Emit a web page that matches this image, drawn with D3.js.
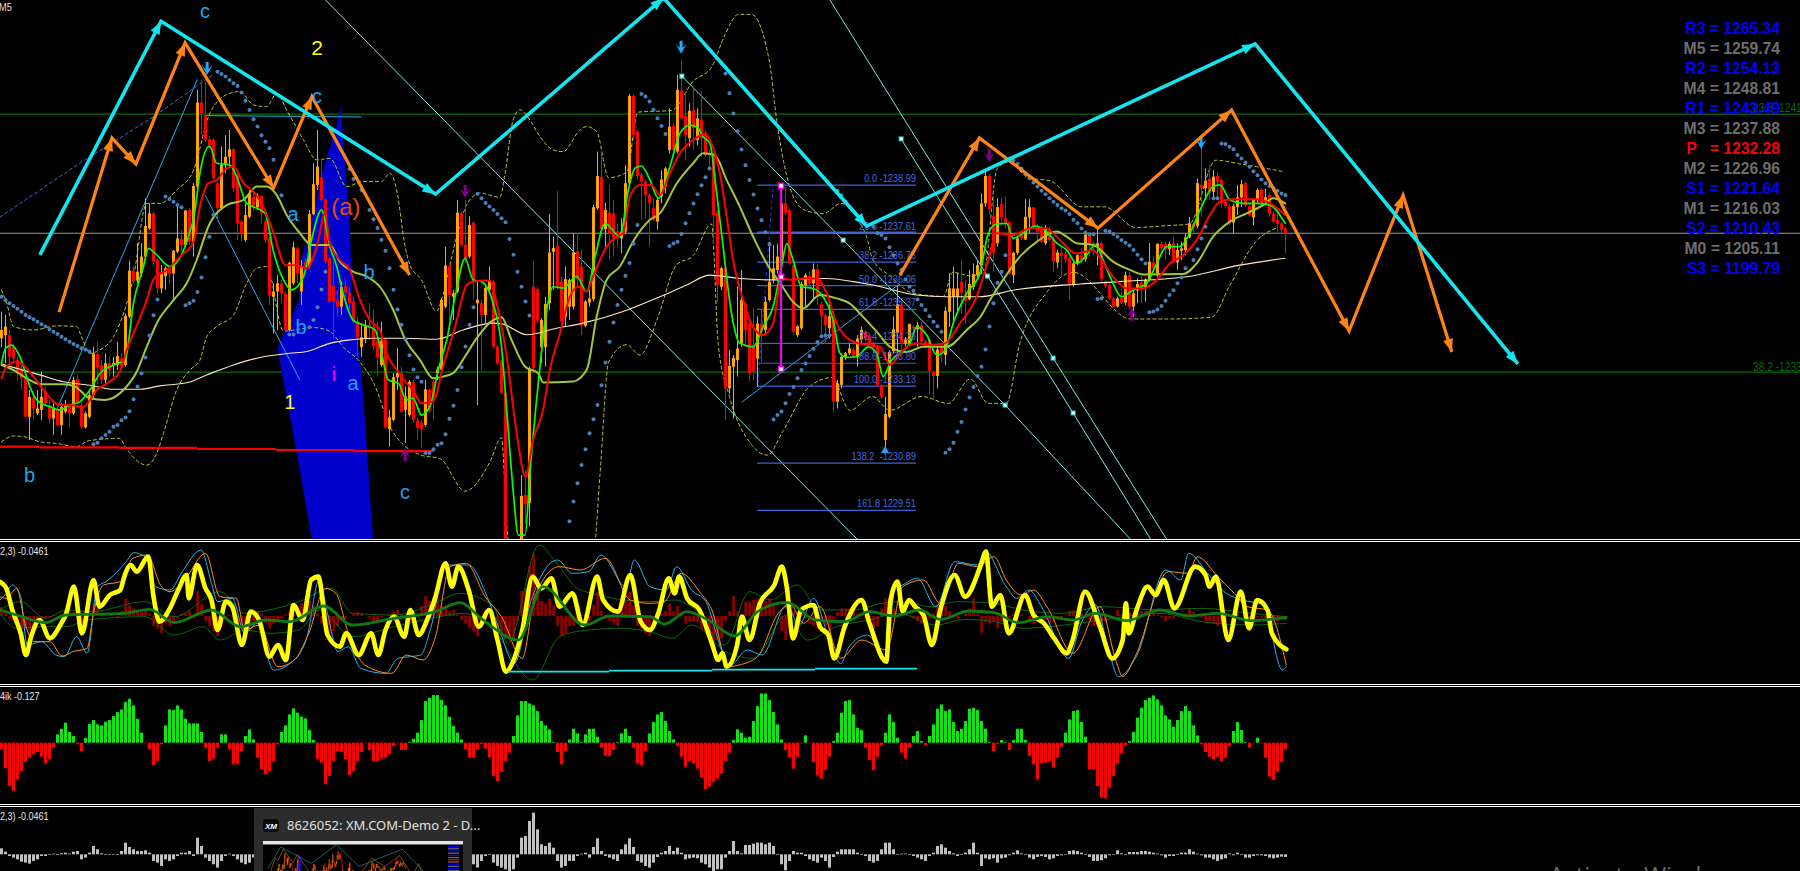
<!DOCTYPE html>
<html><head><meta charset="utf-8">
<script src="https://cdnjs.cloudflare.com/ajax/libs/d3/7.8.5/d3.min.js"></script>
<style>html,body{margin:0;padding:0;background:#000;overflow:hidden}svg{display:block}text{white-space:pre}</style>
</head><body><svg id="c" width="1800" height="871"></svg>
<script>
// all prices below are stored relative to 1200
const candleHigh=[35.30,35.21,34.77,34.38,33.99,33.80,33.41,33.02,32.87,33.02,33.55,33.12,32.73,32.63,32.58,32.63,32.73,32.63,33.41,33.46,32.68,32.39,33.02,34.28,34.43,33.89,34.09,33.99,33.99,34.43,34.09,35.25,36.79,36.62,37.30,37.30,38.61,38.46,38.22,36.86,36.66,36.62,36.66,37.10,38.36,37.68,38.27,38.32,39.05,41.77,42.06,42.01,40.41,40.36,39.09,40.11,40.45,40.60,40.07,39.34,37.98,38.46,38.85,38.75,38.75,38.70,37.98,37.49,36.13,36.37,36.23,35.89,36.76,37.34,37.20,36.81,36.86,38.27,39.63,40.60,39.77,38.61,36.91,36.76,35.94,36.18,36.23,36.03,35.74,35.16,34.97,35.06,35.55,35.36,35.01,35.01,34.53,32.44,33.51,34.24,33.70,33.12,33.31,33.31,32.20,32.15,33.31,33.07,33.31,33.70,35.69,37.20,36.72,35.94,38.56,38.22,38.56,38.08,37.93,36.18,35.65,36.03,36.62,36.23,34.33,33.90,33.02,28.5,28.5,28.5,30.54,30.69,33.70,36.76,36.03,35.11,35.74,38.15,37.49,38.81,36.33,36.62,36.28,37.59,37.59,37.10,35.65,35.94,38.42,39.97,39.92,38.47,39.00,38.56,37.88,38.03,39.58,41.65,41.65,40.60,39.34,39.15,38.76,38.61,38.61,39.43,39.53,41.23,40.79,42.20,42.64,41.67,41.38,41.81,41.23,41.72,40.60,40.02,39.92,38.27,36.61,36.66,34.18,34.04,36.03,36.52,35.59,35.01,35.40,35.16,35.35,35.74,37.34,37.24,37.29,38.99,38.95,38.31,36.71,34.91,36.18,36.42,36.47,36.71,36.71,35.59,35.25,35.64,35.25,33.31,34.09,34.13,34.38,34.28,34.62,34.86,34.77,34.67,34.43,34.33,33.21,32.82,34.18,35.16,36.08,35.54,34.57,34.96,34.91,35.01,35.01,34.48,34.52,33.60,34.28,34.33,35.45,36.42,36.61,36.42,36.81,36.23,36.52,36.71,36.81,38.75,39.43,39.33,38.66,38.61,38.61,38.66,37.93,37.05,37.49,37.68,38.58,38.58,38.36,37.86,37.78,37.83,37.78,37.49,37.10,37.20,37.05,36.91,36.76,37.00,37.15,37.63,37.59,37.34,37.70,37.34,36.23,36.18,35.74,35.74,35.98,36.47,36.47,35.93,36.28,36.33,36.28,37.30,36.91,37.30,37.34,37.34,37.34,37.49,37.30,37.34,37.59,38.07,37.93,39.19,40.26,39.48,39.58,39.43,39.38,39.19,38.56,38.46,38.46,39.00,39.14,39.09,38.46,38.61,38.90,38.90,38.90,38.75,38.22,38.17,37.93,37.78];
const candleTop=[34.77,34.87,34.62,34.28,33.89,33.65,33.36,32.82,32.78,32.48,32.82,32.97,32.58,32.48,32.44,32.53,32.58,32.58,33.31,33.33,32.58,32.34,32.87,34.09,34.07,33.75,33.80,33.80,33.80,34.01,33.94,35.18,36.50,36.50,36.47,36.91,37.80,38.17,38.17,36.81,36.42,36.57,36.57,37.08,37.44,37.42,38.25,38.27,38.97,41.40,41.40,41.04,40.33,40.31,39.05,39.58,39.82,40.04,40.04,39.29,37.93,38.12,38.75,38.66,38.68,38.68,37.93,37.44,35.89,36.13,36.13,35.82,36.73,37.18,37.15,36.62,36.76,38.15,39.02,39.53,39.22,38.58,36.86,36.05,35.63,36.02,36.05,35.86,35.60,35.01,34.56,34.92,34.92,34.87,34.46,34.46,34.50,32.22,33.39,33.51,33.51,32.83,33.26,33.24,32.13,32.07,33.04,33.02,33.26,33.61,35.65,36.65,36.64,35.84,38.19,38.17,37.25,37.83,37.90,35.65,35.55,35.99,36.23,36.18,34.29,33.85,32.94,28.4,28.4,28.4,29.93,29.96,33.65,36.03,35.96,35.06,35.53,37.03,37.16,37.22,36.18,36.25,36.23,37.03,37.06,36.62,35.60,35.69,38.35,39.26,39.22,38.27,38.19,38.17,37.64,37.64,39.05,41.59,41.59,40.55,39.29,39.10,38.71,38.32,38.56,39.16,39.48,40.70,40.72,41.77,41.75,41.01,41.16,41.18,40.94,40.89,40.52,39.92,39.87,38.22,36.57,36.59,33.72,33.96,34.23,35.64,35.54,34.94,34.33,34.96,34.96,35.59,36.18,36.57,36.91,38.46,38.46,38.27,36.66,34.88,36.11,36.37,36.34,36.54,36.54,35.52,35.20,35.17,35.16,33.21,33.99,34.09,34.23,34.20,34.52,34.77,34.72,34.62,34.36,34.30,33.17,32.32,34.13,34.79,35.52,35.50,34.49,34.94,34.86,34.91,34.91,34.43,34.49,33.55,34.20,34.28,35.33,35.98,35.98,35.98,36.18,35.82,36.11,36.40,36.66,38.46,39.26,39.26,38.09,38.35,38.44,38.03,37.92,37.02,37.44,37.63,38.07,38.35,38.35,37.80,37.70,37.73,37.70,37.41,37.03,37.02,36.98,36.86,36.71,36.95,36.95,37.56,37.54,37.30,37.30,37.30,36.18,36.08,35.69,35.69,35.71,36.37,36.37,35.84,36.11,36.15,36.23,36.76,36.74,37.28,37.28,37.28,37.28,37.30,37.10,37.15,37.47,37.88,37.86,39.05,39.00,39.12,39.18,39.24,39.26,39.14,38.51,38.38,38.38,38.64,39.02,39.05,38.38,38.58,38.85,38.85,38.64,38.71,38.15,37.98,37.88,37.73];
const candleBottom=[34.53,34.62,33.99,33.94,33.50,33.36,32.24,32.24,32.48,32.34,32.44,32.63,32.19,32.19,32.00,32.00,32.39,32.34,32.34,32.63,31.95,31.93,32.24,32.87,33.68,33.31,33.31,33.60,33.75,33.75,33.70,33.75,35.16,36.21,36.21,36.42,36.91,37.73,36.76,35.98,35.98,36.34,36.40,36.42,37.05,37.25,37.25,37.34,37.34,38.95,41.09,40.31,40.16,39.19,38.32,38.32,39.58,39.82,38.90,37.88,37.59,37.39,38.07,38.35,38.35,38.17,37.39,35.77,35.74,35.89,35.84,34.77,34.77,36.13,36.42,35.89,36.62,36.62,38.15,39.00,38.56,36.76,35.59,35.60,35.45,35.45,35.86,35.55,35.01,34.56,34.27,34.53,34.82,34.29,33.97,33.75,31.93,31.88,32.15,33.39,32.39,32.44,32.29,32.15,31.91,31.88,32.00,32.42,32.73,33.51,33.61,35.45,35.79,35.74,35.89,37.25,36.83,36.91,36.18,35.55,35.21,35.21,35.94,34.29,33.80,32.94,28.68,28.0,28.0,28.0,28.40,29.69,29.72,33.65,35.04,34.27,34.27,35.55,37.05,36.03,35.01,35.16,35.45,35.45,36.25,34.89,34.89,35.57,35.67,38.32,37.71,37.71,37.59,37.44,37.44,37.44,37.64,39.05,40.46,39.26,39.10,38.71,38.47,37.98,37.93,38.66,38.95,40.02,40.02,39.97,40.94,40.45,40.36,40.65,40.31,40.36,39.87,39.87,38.12,36.08,36.03,33.07,33.07,33.70,33.89,34.38,34.77,33.50,33.55,33.94,34.72,34.77,35.64,36.23,36.52,36.71,38.19,36.71,34.72,34.62,34.82,36.08,36.13,36.13,35.79,35.17,34.91,34.82,32.68,32.68,33.17,33.99,34.09,33.99,33.99,34.49,34.52,34.30,34.28,33.17,32.82,31.56,32.24,34.15,34.69,34.40,34.38,34.38,34.82,34.79,34.43,34.28,33.58,33.43,33.43,34.09,34.04,35.30,35.74,35.74,35.86,35.62,35.66,36.03,36.37,36.66,38.46,38.30,37.02,37.30,38.05,37.86,36.42,36.37,37.02,37.44,37.41,38.05,37.80,37.64,37.34,37.30,37.39,36.76,36.74,36.93,36.83,36.08,36.08,36.71,36.81,36.83,37.30,37.18,37.18,36.25,36.05,35.69,35.45,35.45,35.57,35.57,35.45,35.45,35.92,35.93,36.01,36.23,36.57,36.42,37.15,37.13,37.13,36.74,36.74,37.08,37.10,37.47,37.76,37.80,38.90,38.90,38.77,38.80,39.09,38.46,38.38,37.88,37.90,38.36,38.64,38.41,38.12,38.05,38.56,38.46,38.51,38.15,37.93,37.86,37.69,37.57];
const candleLow=[34.28,33.80,33.75,33.80,33.31,33.02,32.24,31.56,32.14,32.29,32.14,32.53,32.05,31.71,31.95,31.71,32.34,31.95,32.29,32.53,31.90,31.90,32.19,32.78,33.17,33.21,33.17,33.41,33.41,33.60,33.65,33.70,35.11,36.13,36.13,36.32,36.81,37.68,36.66,35.84,35.84,35.94,36.13,35.64,37.00,37.05,37.20,37.25,36.91,38.90,40.45,40.26,40.07,39.14,37.93,38.27,39.34,39.53,38.80,37.39,37.34,37.34,38.02,38.27,38.27,37.88,37.30,35.50,34.67,34.77,35.55,34.72,34.72,36.08,36.13,35.50,36.52,36.57,38.12,38.85,38.51,36.71,35.55,34.53,35.16,35.21,35.74,35.36,34.97,33.99,33.99,34.38,34.48,34.19,33.41,33.70,31.90,31.37,32.10,33.02,32.34,31.47,32.24,32.05,31.56,31.32,31.95,32.34,32.15,33.31,33.56,35.40,35.06,35.06,35.84,37.20,36.76,36.86,35.65,32.58,33.61,34.97,35.84,34.24,33.75,32.88,28.67,27.9,27.9,27.9,28.40,29.13,29.04,33.61,34.97,33.80,33.70,35.36,35.94,35.94,34.92,34.87,35.06,35.36,36.03,34.63,34.85,35.45,35.60,38.27,37.64,37.10,36.81,36.91,37.20,37.01,37.59,39.00,40.31,39.15,37.98,38.03,37.20,37.93,37.69,38.46,38.75,39.92,39.97,39.92,40.89,39.72,40.11,40.02,40.16,39.82,39.82,39.43,37.30,35.59,35.93,32.14,32.92,32.19,33.41,34.28,34.28,33.26,33.31,33.11,33.84,34.67,35.59,36.13,36.42,36.32,38.12,36.66,34.62,34.57,34.77,35.45,36.03,35.64,35.50,34.62,34.38,34.52,32.39,32.48,33.07,33.89,34.04,33.94,33.70,34.38,34.43,34.23,34.09,33.11,32.77,31.32,32.19,34.09,34.09,34.13,34.28,34.33,34.57,34.28,34.38,34.23,32.87,32.73,33.07,33.84,33.75,34.86,34.96,35.25,35.25,34.96,35.64,35.93,36.23,36.42,38.36,38.12,36.47,37.20,37.88,37.73,36.37,36.13,36.95,37.39,37.39,37.59,37.73,37.39,37.30,37.25,37.34,36.47,36.57,36.32,36.71,35.64,36.03,36.66,36.71,36.76,36.91,36.95,36.66,36.18,35.98,35.64,35.43,35.43,35.53,35.50,35.40,35.16,35.55,35.55,35.59,36.18,36.47,36.32,37.00,36.81,36.95,36.71,36.52,36.81,36.95,37.44,37.63,37.73,38.07,38.56,38.56,38.61,38.56,38.36,38.31,37.83,37.59,38.12,38.36,38.36,38.07,37.83,38.46,38.41,38.41,38.07,37.88,37.59,37.59,37.00];
const candleDir="OORRRRRORO ORRORO OROR ROOORRORO O ROORO OOORR OOROOROROO RRRRROOORR ROOROR RROO RROOROROOO RRRRRORRRR OORRRORO OO ROORRRORRO OOROORRORO ROORRRRROO ORORRO OOOR ROOORROOOO RORRROOORR RRRROOOORO RRORORRRRR OROOOORRRO ROOOOORRRO OOROR RRORO OOOROORRRR ROOOORO ORO RRRROROOOO RROOOOORRO RRROOROORR RORRORRROO RORRORRRRO ROROOROORO RRORO OOORO ROROR RRROO ORROOROR RR RR".replace(/\s/g,'');

const redBars=[0,1.3,3.8,5.5,8,10.5,14.6,17.1,20.5,23.8,26.3,29.6,31.3,33,36.3,38,41.3,44.6,48,49.6,51.7,53.8,56.3,58,60.5,63,65.5,68,71,73.8,76.3,78.8,80.9,82.1,84.6,87.1,89.6,92.1,94.6,95.9,98.8,101.3,102.9,105,107.9,110.4,113.4,116.3,117.9,122.1,123.8,126.3,128.8,131,132.9,135.4,137.1,139.6,142.1,144.2,146.3,147.9,151.3,153.8,155.4,157.1,159.6,162.5,164.6,167.1,169.6,172.9,175.9,177.5,179.6,181.3,182.9,185.4,187.9,190.4,192.9,195,197.9,200.4,203.8,206.3,208.8,212.1,216.3,219.6,222.1,225.4,228.8,232.1,235.9,239.6,243.8,246.7,248.8,252.9,257.1,261.3,263.8,268.8,272.9,275,277.9,281.3,285.4,288.8,292.1,295.4,298.8,302.1,304.6,307.9,313.8,317.1,320.9];
const redPrices=[33.36,33.70,33.85,33.75,33.41,33.02,32.58,32.58,32.53,33.02,33.21,33.55,34.19,34.67,35.64,36.25,36.52,36.91,37.34,38.36,39.05,39.14,39.48,39.53,39.05,38.80,38.36,37.59,36.66,36.66,36.57,37.20,38.17,37.30,36.81,36.52,35.65,35.06,34.77,34.19,33.61,33.22,33.02,32.63,32.68,33.70,34.87,36.08,36.18,36.21,35.55,33.99,31.76,30.49,31.56,32.44,33.61,34.67,35.74,36.03,35.89,36.33,37.20,37.49,37.59,38.66,39.0,39.0,38.70,39.34,39.92,40.31,40.48,40.21,39.34,38.07,36.81,35.64,34.86,34.62,34.96,36.27,36.23,36.27,36.27,35.84,34.96,34.48,34.33,34.28,33.75,34.18,34.38,34.33,34.38,34.96,35.74,36.81,37.59,37.54,37.73,37.73,37.49,37.0,37.10,36.81,36.32,35.98,35.98,36.23,36.71,36.95,37.39,38.12,38.51,38.58,38.58,38.46,38.12];
const greenBars=[0,1,2.5,4.6,7.1,8.8,12.1,14.6,17.1,19.6,22.1,24.6,28,30.9,33,35.5,36.7,38.8,42.1,46.3,48.4,49.6,52,53.8,57.1,58.8,61.3,63.8,65.9,68,70.5,72.5,75.5,77.5,80,82.1,83.8,85.4,87.9,90.4,93.4,95,96.7,99.2,101.3,102.9,105,107.1,109.2,111.3,113.4,115.9,117.9,120,122.9,125,126.3,127.9,129.2,130.9,132.1,134.2,136.3,137.9,140.4,143.8,146.3,148.4,150.9,154.6,156.7,158.4,160,162.1,164.2,167.1,169.6,172.1,174.2,175.4,177.1,178.8,180.4,182.5,184.6,187.9,190.4,192.9,195,196.3,197.9,200,202.9,205.4,207.9,209.6,211.3,213.8,216.7,218.8,220.4,222.5,224.6,227.1,228.8,231.3,233.8,235.9,237.9,241.3,244.6,246.7,248.8,251.3,252.9,255.4,258.4,261.3,263.8,266.3,268.8,271.3,273.4,275.4,277.5,280,282.9,286.3,288.8,291.3,294.6,297.1,300,302.9,304.6,307.1,310.4,313.8,317.1,320.9];
const greenPrices=[33.80,34.23,34.33,33.99,33.12,32.73,32.53,32.44,32.58,32.68,33.02,33.50,33.75,33.89,35.55,36.62,37.15,36.96,36.62,37.34,38.27,39.34,40.13,39.63,39.58,39.24,38.46,38.32,38.17,37.05,36.23,35.94,36.32,37.39,38.27,37.20,36.62,35.84,35.06,34.92,34.77,34.09,33.31,33.22,32.73,32.78,32.29,32.54,33.61,34.48,35.74,36.86,36.23,36.18,35.55,34.29,32.44,30.11,28.79,28.79,30.59,33.22,35.36,36.03,35.99,36.33,35.89,36.91,37.88,37.49,38.85,39.49,39.55,39.15,38.61,39.53,40.50,40.74,40.65,40.40,40.21,38.75,37.20,35.25,34.38,34.28,34.86,35.45,36.61,37.29,36.81,36.03,35.98,35.74,35.06,34.09,33.97,33.99,34.28,34.09,33.41,33.89,34.09,34.38,34.86,34.62,34.04,34.18,34.96,35.84,36.42,37.59,37.86,37.88,37.44,37.59,37.80,37.64,37.30,37.10,36.71,36.95,37.25,36.81,36.23,35.74,35.93,36.13,36.71,37.20,37.20,37.59,38.36,38.95,39.0,38.56,38.46,38.46,38.41,37.88];
const oliveBars=[0,3,6.3,9.6,15.5,18.4,22.1,25.9,30.9,33.8,36.3,38.8,43,46.3,48.8,51.7,56.3,60.5,63.8,66.3,68.8,71.3,74.6,77.5,82.1,84.6,87.9,91.3,94.6,97.9,100.8,104.6,107.9,110.4,112.9,115.9,118.8,122.9,125,127.5,130.9,134.2,135.4,142.9,146.3,148.8,151.3,154.6,157.9,162.1,164.6,168.8,172.9,175.4,178.3,181.3,184.6,187.9,191.3,195,197.9,200.4,204.6,208.8,212.1,215.4,218.8,222.1,226.3,230.4,236.3,241.3,245,247.1,250.4,254.6,258.8,263.8,266.3,268.8,272.9,277.9,282.1,285.4,295.4,298.8,302.9,307.1,311.3,315.4,317.9,320.9];
const olivePrices=[33.75,33.60,33.36,33.19,33.19,33.12,32.78,32.73,33.07,33.55,34.28,34.96,35.64,36.13,36.81,37.78,38.41,38.56,38.95,38.95,38.70,38.12,37.59,37.25,37.25,36.76,36.47,36.33,36.03,35.36,34.53,33.90,33.36,33.41,33.51,34.0,34.53,35.06,35.14,34.48,33.70,33.51,33.24,33.27,33.61,35.16,36.23,36.62,37.35,37.98,38.17,39.04,39.63,39.92,39.87,39.14,38.36,37.49,36.71,36.08,35.59,35.40,35.79,35.69,35.54,35.15,34.72,34.28,34.13,34.28,34.28,34.77,35.20,35.64,36.23,36.91,37.34,37.64,37.49,37.30,37.25,36.76,36.52,36.39,36.40,36.71,37.49,37.93,38.17,38.41,38.61,38.46];
const creamBars=[0,3.8,9.6,15.5,22.1,28,34.6,39.6,46.3,51.3,58,65.5,72.1,76.3,82.1,87.1,92.9,100.4,108.8,115.4,122.9,125.4,131.3,138.8,145.4,155.4,164.6,171.3,177.1,184.6,192.1,206.3,212.9,217.9,228.8,236.3,244.6,252.9,269.6,279.6,296.3,309.6,320.9];
const creamPrices=[33.78,33.65,33.46,33.26,33.16,33.04,33.04,33.14,33.23,33.46,33.75,33.99,34.09,34.14,34.38,34.48,34.53,34.53,34.50,34.77,34.97,34.94,34.63,34.82,34.97,35.31,35.74,36.08,36.37,36.27,36.23,36.27,36.18,36.08,35.79,35.74,35.74,35.93,36.11,36.18,36.32,36.66,36.86];
const bandUpperBars=[0,1.3,3,8,13.8,18.8,20,22.1,24.6,28,33,36.3,39.6,43.8,48,52.1,57.1,59.6,63,66.3,68.8,71.3,75.5,78.8,82.1,86.3,90.4,95,97.1,98.8,100.9,102.1,105,108.8,110,113.8,116.3,119.6,124.6,125.9,127.9,129.6,132.1,134.6,137.9,140.4,144.6,146.3,148.8,151.8,156.3,159.1,167.5,173,177.5,180.9,184.2,187.5,192,193.7,197.6,200.9,205.4,209.9,214.3,216.6,217.7,222.1,227.7,235.5,237.8,242.2,245.6,248.9,251.7,256.7,262.3,270.1,275.7,283.5,291.3,296.9,303.6,309.2,320.4];
const bandUpperPrices=[35.93,35.55,34.87,34.77,34.89,34.87,34.57,34.09,34.19,34.57,36.32,38.46,38.46,38.85,39.43,41.09,41.67,41.72,41.33,41.28,41.67,41.18,40.31,39.73,39.77,38.95,39.10,39.10,39.34,38.85,37.20,36.67,36.23,35.31,35.65,37.49,38.42,38.76,38.64,39.34,40.89,41.19,40.89,40.41,40.02,39.97,40.60,40.70,40.55,39.21,39.37,41.12,41.17,42.03,42.43,43.39,43.97,43.97,42.58,40.97,38.76,38.26,38.16,38.46,37.96,37.36,36.85,36.35,35.85,35.75,36.45,36.35,36.45,39.47,39.67,39.21,39.11,38.36,38.36,37.76,37.81,37.86,39.72,39.62,39.39];
const bandLowerBars=[0,3,5.5,9.6,13.8,18.8,21.7,29.6,30.9,36.3,38.8,40.5,43.8,47.1,49.6,51.3,53.8,58,61.3,63.8,66.3,70.5,78,81.9,85.7,89.6,93.4,97.2,104.9,109.6,115.9,122.1,125,126.3,127.1,147.9,149.6,151.8,156.3,159.6,164.1,168.6,173,177.5,179.2,182,187.5,191.5,195.4,202.1,207.6,212.1,217.7,222.1,230,236.7,242.2,246.7,251.2,254.5,261.2,267.9,282.4,291.3,302.5,307,313.7,319.2];
const bandLowerPrices=[31.51,31.68,31.66,31.51,31.46,31.37,31.54,31.61,31.37,30.83,31.17,31.76,33.02,33.60,33.89,34.57,34.87,35.21,36.13,36.57,36.62,34.74,34.84,34.74,34.24,33.84,33.13,31.93,31.12,31.02,30.07,30.92,31.63,29.13,28.2,28.2,30.52,33.84,34.34,34.04,35.14,36.65,36.95,37.86,34.34,32.83,31.43,31.12,31.83,33.13,33.38,32.43,32.83,32.43,32.83,32.63,33.34,32.63,32.63,34.34,35.85,36.45,35.09,35.09,35.14,36.05,37.36,37.76];
const sarBars=[0,1,2,3,4,5,6,7,8,9,10,11,12,13,14,15,16,17,18,19,20,21,22,23,24,25,26,27,28,29,30,31,32,33,34,35,36,37,38,39,41,42,43,44,45,46,47,48,49,50,51,52,53,54,55,56,57,58,59,60,61,62,63,64,65,66,67,68,70,72,73,77,78,79,80,81,87,88,90,92,93,94,95,96,97,98,99,100,101,102,103,104,105,106,107,108,109,110,111,112,113,114,115,116,117,118,119,120,121,122,123,124,125,126,127,128,129,130,131,132,142,143,144,145,146,147,148,149,150,151,152,153,154,155,156,157,158,159,160,161,162,163,164,165,166,167,168,169,170,171,172,173,174,175,176,177,180,181,182,183,184,185,186,187,188,189,190,191,192,193,194,195,196,197,198,199,200,201,202,203,204,205,206,207,209,210,211,212,215,218,219,220,221,222,223,224,225,226,227,228,229,230,231,232,233,234,235,236,237,238,239,240,241,242,243,244,245,246,247,248,249,250,251,252,253,254,255,256,257,258,259,260,261,262,263,264,265,266,267,268,269,270,271,272,273,274,275,276,277,278,279,280,281,282,283,284,285,286,287,288,289,290,291,292,293,294,295,296,298,299,300,301,303,304,305,306,307,308,309,310,311,312,313,314,315,316,317,318,319,320,321];
const sarPrices=[35.74,35.64,35.55,35.47,35.39,35.30,35.21,35.14,35.08,35.01,34.94,34.87,34.79,34.72,34.65,34.57,34.50,34.43,34.36,34.30,34.24,34.20,34.14,31.44,31.48,31.61,31.71,31.80,31.95,32.0,32.14,32.22,32.40,32.75,33.12,33.50,33.97,34.61,35.20,35.66,38.66,38.59,38.51,38.41,38.35,35.49,35.55,35.62,35.88,36.30,36.89,37.49,38.12,42.30,42.23,42.16,42.06,41.96,41.88,41.69,41.45,41.18,40.91,40.70,40.45,40.26,40.07,39.73,38.70,34.64,34.64,34.85,35.06,35.43,35.95,36.47,39.46,39.17,38.85,38.27,38.0,37.74,37.40,37.08,36.57,35.94,35.37,34.92,34.50,34.03,33.62,33.39,33.26,31.18,31.18,31.29,31.42,31.47,31.73,32.18,32.56,33.02,33.68,34.29,34.92,35.43,38.74,38.61,38.47,38.37,38.27,38.15,38.03,37.91,37.42,36.96,36.47,36.03,35.60,35.19,29.19,29.77,30.30,30.83,31.29,31.76,32.17,32.58,33.16,33.82,34.43,34.99,35.50,35.94,36.35,36.72,37.28,37.83,41.65,41.58,41.43,41.19,40.94,40.72,40.48,37.22,37.29,37.34,37.57,37.88,38.17,38.46,38.73,38.99,39.22,39.48,42.54,42.25,41.67,41.08,40.56,40.03,39.57,39.14,38.72,38.31,37.97,37.62,37.27,32.16,32.29,32.39,32.63,32.90,33.11,33.36,33.60,33.79,34.01,34.22,34.42,34.59,34.61,34.61,38.83,38.70,38.51,38.36,37.97,37.78,37.59,37.54,37.44,37.18,36.95,36.71,36.52,36.24,36.03,35.91,35.66,35.50,35.35,35.17,35.01,34.88,34.72,31.19,31.29,31.48,31.80,32.09,32.45,32.80,33.11,33.43,33.70,34.20,34.87,35.55,36.15,36.47,36.95,39.77,39.71,39.61,39.48,39.32,39.19,39.07,38.95,38.83,38.73,38.61,38.51,38.41,38.32,38.25,38.15,37.98,37.88,37.73,37.61,37.56,37.56,35.67,35.69,37.66,37.64,37.57,37.49,37.39,37.31,37.23,37.10,36.96,36.83,36.71,35.29,35.31,35.37,35.47,35.62,35.79,35.93,36.13,36.30,36.57,36.81,37.12,37.44,37.78,38.61,38.61,40.21,40.19,40.11,40.04,39.87,39.77,39.65,39.53,39.40,39.28,39.16,39.05,38.97,38.90,38.83,38.75,38.70];

// oscillator panel readings
const stochBars=[-0.4,1.2,2.7,4.8,6.1,7.4,9.5,12.1,14.7,16.2,18.1,20.1,23,24.5,27.1,29.7,30.7,32.3,33.8,36.7,38,39.5,42.1,44.2,46.3,46.8,48.9,51,52.5,54,56.1,57.7,60.1,62.3,64.4,67,69.1,71.1,73,75.3,77.4,79.2,81.5,84.6,86.2,89.3,92.4,94.2,96,98.1,100.7,102.2,104.3,106.4,108.5,111,112.6,114.2,116.8,119.3,121.9,124,126.1,128.2,130.2,132.8,134.9,137.5,139.5,142.7,145.3,148.9,150.4,154.1,157.2,159.8,162.1,164.2,166.8,168.3,169.4,171.4,174.5,177.6,179.2,180.2,181.3,183.9,185.1,187,189.6,193.2,195.1,196.3,197.9,199.9,203,204.6,206.7,208.2,210.8,215,217,221.2,222.2,224,225.3,226.9,228.4,230.5,232.6,234.7,238.3,240.9,245,246.1,247.6,249.7,251.8,255.9,258,260.6,263.2,266.3,267.8,270.9,274.6,277.7,280.3,281.1,281.8,283.9,286.5,288.5,290.6,293.2,298.4,301,302,303.6,306.7,309.8,311.9,313.9,316.5,317.6,321.2];
const stochValues=[103,83,18,-52,-117,-62,-12,-67,-27,8,88,-52,108,28,63,78,118,153,133,178,58,-17,23,78,123,53,153,83,48,-42,43,28,-87,13,-12,-122,-87,-132,33,-12,108,118,-57,-92,-52,-117,-52,-117,-42,-2,-62,18,-57,-12,58,158,88,148,78,-32,18,-72,-167,-127,-42,118,83,113,28,68,-27,118,48,13,123,-17,-42,8,113,68,118,53,18,-82,-132,-112,-152,-87,-2,-72,38,93,148,88,-67,18,33,-32,-57,-127,-32,48,-22,-137,43,103,13,48,28,3,-87,18,123,58,158,193,28,63,-52,63,3,-22,-67,-112,-72,73,-32,-127,-72,38,-52,23,88,63,108,23,148,123,88,118,-72,73,-37,48,18,-52,-100];
const signalBlueBars=[-0.4,1.2,2.7,4.8,6.4,10,13.6,15.7,18.8,21.4,24,26.1,31.2,33,36.4,38.5,42.1,45.2,49.9,52.5,54,57.7,60.8,63.9,68,72.2,76.3,79.4,81.5,84.1,86.7,89.8,96,99.1,102.2,104.8,107.4,111,116.8,121.4,124.5,128.2,132.3,139,142.7,146.8,149.9,156.1,158.2,162.1,166.2,168.8,172.5,176.1,179.7,181.8,186.5,190.1,196.3,199.4,203,206.7,209.8,211.9,216.5,221.2,223.3,225.3,229,233.6,238.3,244,245.8,251.2,253.8,256.9,260,266.8,269.9,273.5,276.6,279.2,283.9,291.1,294.8,296.8,301.5,306.2,310.3,315.5,320.2,321.2];
const signalBlueValues=[48,68,93,58,-87,-77,-117,-122,-62,-112,88,103,163,190,173,88,78,133,198,98,43,53,-52,-22,-162,-142,-67,108,8,-107,-92,-157,-172,-127,-122,-117,-32,153,153,58,-42,-142,43,168,128,133,183,88,168,88,78,148,78,43,-92,-152,-102,-117,33,-27,53,-62,-142,-92,-57,-127,78,93,113,28,163,153,196,88,53,78,28,-127,-22,33,-92,-182,-117,138,108,188,128,68,48,33,-162,-152];
const signalOrangeBars=[-0.4,1.2,3.8,5.9,8,12.1,15.2,17.8,21.4,23,25.5,29.7,32.8,36.4,40,42.1,46.3,51,54.6,58.7,60.8,64.4,69.1,73.2,76.8,81,83.6,86.7,90.8,97.6,101.2,105.4,108.5,112.1,116.2,120.9,125,130.2,133.3,139.5,144.7,151,157.2,162.1,165.7,169.9,174.5,177.6,181.8,184.4,189,194.2,197.3,200.5,204.6,209.8,215,221.2,225.3,230.5,234.7,239.3,244,248.1,251.2,254.9,258,261.6,267.8,274.6,278.7,280.3,283.4,291.7,296.8,298.9,304.1,308.2,311.4,316.5,321.2];
const signalOrangeValues=[58,53,83,-22,-77,-77,-120,-107,-97,8,93,103,173,183,88,73,118,188,58,53,-42,-27,-152,-132,-52,83,68,-52,-147,-172,-117,-132,-62,148,158,58,-2,-127,58,148,138,173,48,38,43,128,73,18,-152,-147,-122,8,33,-22,28,-127,-72,-102,88,108,38,158,148,178,108,63,78,23,-112,28,-137,-182,-122,133,128,178,118,68,28,18,-147];
const trendBars=[-0.4,3.8,11,16.2,30.7,37,43.2,52.5,59.7,66,72.2,80.5,87.7,98.1,108.5,114.7,119.9,129.2,135.4,145.8,152,162.1,165.7,171.4,176.6,183.3,189,196.3,203.6,210.8,217,223.3,229.5,234.7,241.9,248.1,254.3,261.6,267.8,273.5,281.3,289.6,296.8,304.1,312.4,321.2];
const trendValues=[18,3,-20,3,8,20,-20,18,-32,-12,-17,30,-27,-7,13,40,-7,-72,88,-27,0,-2,-24,13,-12,-60,13,41,-12,-17,13,0,18,-10,15,10,-20,-2,-12,8,-14,18,0,8,-14,-4];
const envUpperBars=[-0.4,4.8,11,16.2,22.4,35.9,43.2,54.6,60.8,67,74.3,82.5,87.7,98.1,107.4,114.7,123,126.6,134.4,138.5,144.7,162.1,168.3,173.5,180.8,187,192.2,198.9,204.6,212.9,220.1,224.3,232.6,238.8,248.1,255.4,265.7,275.1,289.6,300,312.4,321.2];
const envUpperValues=[18,43,-7,18,13,43,-2,73,8,18,43,83,8,3,33,68,28,-82,213,163,78,43,48,18,-87,73,48,93,18,18,38,43,28,43,38,18,8,28,18,23,8,-2];
const envLowerBars=[-0.4,3.8,10,16.2,21.4,35.9,43.2,50.4,54.6,60.8,67,74.3,79.4,87.7,98.1,109.5,115.7,123,132.8,139.5,146.8,155.1,162.1,167.8,172.5,181.8,188,196.3,201.5,208.7,217,224.3,233.6,240.9,248.1,255.4,265.7,275.1,289.6,300,312.4,321.2];
const envLowerValues=[8,-37,-32,-32,-12,-2,-57,-32,-72,-42,-52,-42,18,-62,-32,-2,8,-42,-192,-62,-42,-37,-47,-67,-27,-112,-127,3,-72,-32,-12,8,-27,-10,-17,-37,-27,-12,8,-17,-27,-22];
const floorStartBars=[126.6,151.9,177.6,203.4];
const floorEndBars=[151.9,177.6,203.4,228.9];
const floorValues=[-167,-164,-161,-158];

const momentum=[-20,-77,-130,-145,-110,-85,-58,-45,-35,-28,-42,-62,-50,-15,25,42,60,32,20,-5,-25,14,56,68,55,52,63,68,80,92,100,122,132,112,72,30,-2,-20,-68,-55,-5,52,100,98,112,100,72,58,58,58,32,-15,-55,-48,-15,25,25,-20,-65,-65,-25,20,40,10,-45,-80,-95,-85,-55,-5,32,52,85,103,90,78,73,38,8,-50,-60,-125,-100,-55,-25,-28,-50,-97,-85,-55,-28,-2,-22,-55,-55,-48,-45,-35,-10,-2,-22,-22,2,12,30,68,125,135,143,143,128,112,78,50,30,10,-20,-45,-45,-20,-5,-18,-45,-100,-115,-88,-55,-30,20,82,125,125,118,112,95,65,52,40,2,-28,-65,-25,10,42,28,2,25,42,42,18,-15,-40,-40,-22,2,28,42,20,-15,-62,-68,-25,28,62,85,92,65,35,10,-10,-42,-72,-55,-62,-78,-105,-140,-132,-118,-108,-93,-55,-30,8,40,30,15,18,65,110,148,148,128,92,55,10,-22,-45,-78,-42,-2,22,-2,-58,-98,-108,-82,-42,5,30,90,125,128,85,45,38,-15,-52,-82,-42,-8,30,85,62,15,-30,-48,-15,20,35,5,-8,20,55,102,115,95,100,62,35,42,65,102,105,98,65,42,2,-25,-5,8,2,-22,8,42,42,8,-40,-65,-110,-62,-60,-55,-75,-45,-12,30,70,95,98,62,18,-80,-80,-130,-165,-167,-135,-100,-62,-32,-8,5,32,75,105,128,135,142,130,112,82,70,48,68,95,110,95,52,22,-5,-28,-42,-50,-42,-55,-45,-10,35,62,38,2,-15,-2,15,-2,-45,-102,-112,-88,-58,-20];
const histogram=[18,8,-5,-10,-15,-22,-25,-28,-20,-15,-5,-5,-2,2,-2,3,5,2,8,10,-15,-10,5,25,15,3,1,1,0,-2,10,35,22,15,10,10,12,5,-20,-25,-35,-15,-20,-15,-5,5,5,10,-5,50,25,-10,-20,-30,-40,-20,-5,2,-5,-15,-25,-30,-25,-10,10,5,-15,-25,-15,-10,-5,3,8,5,15,25,30,30,20,5,-15,-25,-35,-30,-20,-10,-5,0,5,8,5,0,-5,-12,-10,-3,0,3,8,12,5,-5,-10,-5,5,20,40,30,25,35,20,15,8,12,3,-8,-15,-25,-30,-40,-20,-5,-2,-25,-35,-40,-45,-50,-45,-10,50,55,100,125,75,30,25,35,20,-20,-40,-35,-20,-20,-5,2,5,-10,22,48,10,-5,-10,-15,-20,15,30,48,22,-20,-25,-35,-40,-25,-8,5,10,25,10,20,5,-15,-12,-10,-12,-25,-30,-40,-50,-45,-45,-10,10,40,10,3,28,28,32,35,35,30,35,25,0,-30,-48,-20,10,5,5,-5,-15,-20,-25,-10,-20,-40,-8,8,15,15,15,15,5,0,-5,-20,-25,-20,15,35,35,15,-2,2,2,0,-5,-10,-15,-20,-5,5,25,30,20,10,3,-5,0,5,15,35,5,-35,-12,-15,-12,-25,-12,-10,-3,5,12,3,0,-10,-15,-8,-5,-8,-15,-12,-5,-3,0,10,12,10,5,0,-8,-20,-20,-18,-12,-3,0,12,3,1,7,7,7,10,10,8,5,2,-3,-10,-5,-5,0,5,5,15,8,2,-3,-10,-10,-15,-20,-15,-12,3,-3,5,0,-10,-10,-5,-3,-3,-5,-10,-12,-10,-7,-8];

// chart annotations in bar / price terms
const cyanWaveBars=[9.6,39.9,108.5,165.5,216.3,313.4,379.1];
const cyanWavePrices=[36.96,43.77,38.73,44.45,37.80,43.11,33.78];
const orangeWaveABars=[14.4,27.6,33.6,45.9,68,77.6,102];
const orangeWaveAPrices=[35.29,40.37,39.61,43.14,38.91,41.58,36.37];
const orangeWaveBBars=[224.6,244.5,274.1,307.5,336.9,350.4,362.6];
const orangeWaveBPrices=[36.37,40.37,37.74,41.18,34.74,38.70,34.13];
const cloudBars=[84.8,87.1,87.6,90.1,91.4,92.9,77.6,73.8,70.4,69,70.9,74.3,75.1,78.1,80.4,83.9];
const cloudPrices=[41.27,37.74,35.85,33.34,31.21,28.65,28.65,31.21,33.34,34.24,34.74,35.64,36.87,38.27,39.46,40.78];
const channels=[{b:[81,214.1],p:[44.39,28.65]},{b:[170.1,210.4,250.9,282.4],p:[42.17,37.39,32.58,28.65]},{b:[207.1,262.9,291.4],p:[44.39,33.95,28.65]},{b:[224.9,246.5,267.9,287.4],p:[40.34,36.34,32.35,28.65]}];
const handleBars=[170.1,210.4,250.9,262.9,224.9,246.5,267.9];
const handlePrices=[42.17,37.39,32.58,33.95,40.34,36.34,32.35];
const skyLines=[{b:[14.1,48.9],p:[32.52,42.06]},{b:[50.9,74.6],p:[38.70,33.31]},{b:[51.4,89.9],p:[41.02,40.98]},{b:[185.1,224.1],p:[32.67,36.08]}];
const dashBars=[-0.4,18.9,37.9,53.1];const dashPrices=[38.06,39.58,40.98,42.23];
const hGreen=[41.06,33.54];const hGray=37.59;
const lowStartBars=[-1,9.6,29.4,48.9,68.6,88.1];
const lowEndBars=[9.6,29.4,48.9,68.6,88.1,108.1];
const lowPrices=[31.37,31.35,31.33,31.30,31.27,31.24];
const fibPrices=[38.99,37.61,36.75,36.06,35.37,34.38,33.80,33.13,30.89,29.51];
const fibLabels=["0.0 -1238.99","23.6 -1237.61","38.2 -1236.75","50.0 -1236.06","61.8 -1235.37","76.4 -1234.38","88.6 -1233.80","100.0 -1233.13","138.2  -1230.89","161.8 1229.51"];
const waveText=["c","2","c","a","(a)","b","b","i","a","1","b","c"];
const waveBars=[50.9,78.9,78.9,72.9,86.1,91.9,74.9,83.1,87.9,72.1,7,100.9];
const wavePrices=[44.07,43.0,41.58,38.15,38.36,36.46,34.86,33.49,33.22,32.67,30.54,30.05];
const waveColors=["#19a5ee","#ffff00","#19a5ee","#19a5ee","#e8451a","#19a5ee","#19a5ee","#ff00ff","#19a5ee","#ffff00","#19a5ee","#19a5ee"];
const waveSizes=[20,21,20,20,24,20,20,20,20,20,20,20];
const signalBars=[51.4,169.9,299.9,115.9,246.9,100.9,282.6];
const signalPrices=[42.38,43.0,40.22,38.79,39.84,31.15,35.24];
const signalKinds=["d","d","d","d","d","u","u"];
const signalColors=["#1ea7ff","#1ea7ff","#1ea7ff","#800090","#800090","#800090","#800090"];
const pivotLabels=["R3 = 1265.34","M5 = 1259.74","R2 = 1254.13","M4 = 1248.81","R1 = 1243.49","M3 = 1237.88","P   = 1232.28","M2 = 1226.96","S1 = 1221.64","M1 = 1216.03","S2 = 1210.43","M0 = 1205.11","S3 = 1199.79"];
const pivotColors=["#0000ff","#6e6e6e","#0000ff","#6e6e6e","#0000ff","#6e6e6e","#ff0000","#6e6e6e","#0000ff","#6e6e6e","#0000ff","#6e6e6e","#0000ff"];

const svg=d3.select("#c");
const W=1800,H=871;
svg.append("rect").attr("width",W).attr("height",H).attr("fill","#000");
const x=d3.scaleLinear().domain([0,322]).range([1.5,1289.5]);
const y=d3.scaleLinear().domain([28.67,44.39]).range([539.2,0]);
const yOsc=d3.scaleLinear().domain([-225,225]).range([691,541]);
const yMom=d3.scaleLinear().domain([0,100]).range([742.7,709.4]);
const yHist=d3.scaleLinear().domain([0,100]).range([616,566]);
const yGray=d3.scaleLinear().domain([0,100]).range([854.3,821]);
const zip=(a,b)=>a.map((v,i)=>[v,b[i]]);
const defs=svg.append("defs");
defs.append("clipPath").attr("id","p1").append("rect").attr("x",0).attr("y",0).attr("width",W).attr("height",539);
defs.append("clipPath").attr("id","p2").append("rect").attr("x",0).attr("y",542).attr("width",W).attr("height",142);
const main=svg.append("g").attr("clip-path","url(#p1)");
const lineOf=(yy,curve)=>d3.line().x(d=>x(d[0])).y(d=>yy(d[1])).curve(curve||d3.curveLinear);
const seg=(g,pts,yy,color,w,curve,dash)=>g.append("path").attr("d",lineOf(yy,curve)(pts)).attr("fill","none").attr("stroke",color).attr("stroke-width",w).attr("stroke-dasharray",dash||null).attr("stroke-linejoin","round").attr("stroke-linecap","round");
// condensed small print: squeeze Liberation Sans horizontally, as the original's narrow UI face
function narrow(sel,f){
  sel.attr("font-family","Liberation Sans");
  const n=sel.node(),len=n.getComputedTextLength();
  sel.attr("textLength",len*f).attr("lengthAdjust","spacingAndGlyphs");
  return sel;
}

// level lines
hGreen.forEach(p=>main.append("line").attr("x1",0).attr("x2",W).attr("y1",y(p)).attr("y2",y(p)).attr("stroke","#0a6a0a").attr("stroke-width",1.2));
main.append("line").attr("x1",0).attr("x2",W).attr("y1",y(hGray)).attr("y2",y(hGray)).attr("stroke","#9a9a9a").attr("stroke-width",1);
narrow(main.append("text").attr("x",1753).attr("y",y(hGreen[0])-2).attr("fill","#0a6a0a").attr("font-size",12).text("23.6 -1241."),.85);
narrow(main.append("text").attr("x",1753).attr("y",y(hGreen[1])-1).attr("fill","#0a6a0a").attr("font-size",12).text("38.2 -1233."),.85);

// blue cloud
main.append("path").attr("d",lineOf(y)(zip(cloudBars,cloudPrices))+"Z").attr("fill","#0000cd");
// channel lines
channels.forEach(c=>seg(main,zip(c.b,c.p),y,"#7fe8e0",1));
skyLines.forEach(c=>seg(main,zip(c.b,c.p),y,"#2aa8ea",1));
seg(main,zip(dashBars,dashPrices),y,"#4a66d8",1,null,"3,3");
// bands
const mono=d3.curveMonotoneX;
seg(main,zip(bandUpperBars,bandUpperPrices),y,"#b9cf3a",1,mono,"3,3");
seg(main,zip(bandLowerBars,bandLowerPrices),y,"#b9cf3a",1,mono,"3,3");
// low trend line
lowPrices.forEach((p,i)=>main.append("line").attr("x1",x(lowStartBars[i])).attr("x2",x(lowEndBars[i])).attr("y1",y(p)).attr("y2",y(p)).attr("stroke","#ff0000").attr("stroke-width",2.2));

// fib tool
fibPrices.forEach((p,i)=>{
  main.append("line").attr("x1",x(188.9)).attr("x2",x(228.6)).attr("y1",y(p)).attr("y2",y(p)).attr("stroke","#3a62d8").attr("stroke-width",i==1?2:1.2);
});
seg(main,[[189.1,33.22],[192.9,38.94]],y,"#1c2ee0",1,null,"3,3");

// candles
const candleG=main.append("g");
d3.range(candleHigh.length).forEach(i=>{
  const c=candleDir[i]==="O"?"#ffa500":"#ff0000";
  candleG.append("line").attr("x1",x(i)).attr("x2",x(i)).attr("y1",y(candleHigh[i])).attr("y2",y(candleLow[i])).attr("stroke",c).attr("stroke-width",1);
  candleG.append("rect").attr("x",x(i)-1.5).attr("width",3).attr("y",y(candleTop[i])).attr("height",Math.max(1,y(candleBottom[i])-y(candleTop[i]))).attr("fill",c);
});
// moving averages
seg(main,zip(creamBars,creamPrices),y,"#ffe8c4",1.1,mono);
seg(main,zip(oliveBars,olivePrices),y,"#a2c83a",2,mono);
seg(main,zip(greenBars,greenPrices),y,"#00ff00",1.7,mono);
seg(main,zip(redBars,redPrices),y,"#ff0000",2,mono);
// parabolic dots
zip(sarBars,sarPrices).forEach(d=>main.append("circle").attr("cx",x(d[0])).attr("cy",y(d[1])).attr("r",2).attr("fill","#4a80b8"));

// fib handles, labels
seg(main,[[194.9,38.97],[194.9,33.63]],y,"#ff00ff",2);
[38.97,36.32,33.63].forEach(p=>main.append("rect").attr("x",x(194.9)-2.5).attr("y",y(p)-2.5).attr("width",5).attr("height",5).attr("fill","#fff").attr("stroke","#ff00ff").attr("stroke-width",1.5));
fibLabels.forEach((t,i)=>narrow(main.append("text").attr("x",x(228.6)).attr("y",y(fibPrices[i])-3).attr("text-anchor","end").attr("font-size",11.5).attr("fill","#4468e0").text(t),.8));
// channel handles
zip(handleBars,handlePrices).forEach(d=>main.append("rect").attr("x",x(d[0])-2).attr("y",y(d[1])-2).attr("width",4).attr("height",4).attr("fill","#fff").attr("stroke","#10d0c0").attr("stroke-width",1));

// signal arrows
signalBars.forEach((b,i)=>{
  const f=signalKinds[i]==="d"?1:-1;
  main.append("path").attr("d","M-1.5,-7L1.5,-7L1.5,0L5.5,-4L0,6L-5.5,-4L-1.5,0Z").attr("transform",`translate(${x(b)},${y(signalPrices[i])}) scale(1,${f})`).attr("fill",signalColors[i]);
});
main.append("path").attr("d","M-4,4L4,4L0,-3Z").attr("transform",`translate(${x(220.9)},${y(31.3)})`).attr("fill","#1ea7ff");

// wave polylines
function wave(bars,prices,color,w){
  const pts=zip(bars,prices);
  main.append("path").attr("d",lineOf(y)(pts)).attr("fill","none").attr("stroke",color).attr("stroke-width",w).attr("stroke-linejoin","miter");
  for(let k=1;k<pts.length;k++){
    const px=x(pts[k][0]),py=y(pts[k][1]),ax=x(pts[k-1][0]),ay=y(pts[k-1][1]);
    const a=Math.atan2(py-ay,px-ax)*180/Math.PI;
    main.append("path").attr("d","M0,0L-13,-5L-13,5Z").attr("transform",`translate(${px},${py}) rotate(${a})`).attr("fill",color);
  }
}
wave(orangeWaveABars,orangeWaveAPrices,"#ff8412",3.2);
wave(orangeWaveBBars,orangeWaveBPrices,"#ff8412",3.2);
wave(cyanWaveBars,cyanWavePrices,"#12e6f0",3.6);
waveText.forEach((t,i)=>main.append("text").attr("x",x(waveBars[i])).attr("y",y(wavePrices[i])).attr("text-anchor","middle").attr("dominant-baseline","central").attr("font-family","Liberation Sans").attr("font-size",waveSizes[i]).attr("fill",waveColors[i]).text(t));
narrow(main.append("text").attr("x",-1).attr("y",11).attr("font-size",11).attr("fill","#ddd").text("M5"),.85);

// pivot table
pivotLabels.forEach((t,i)=>svg.append("text").attr("x",1780).attr("y",28.5+i*20).attr("text-anchor","end").attr("dominant-baseline","central").attr("font-family","Liberation Sans").attr("font-weight","bold").attr("font-size",15.7).attr("fill",pivotColors[i]).text(t));

// oscillator panel
const osc=svg.append("g").attr("clip-path","url(#p2)");
histogram.forEach((v,i)=>osc.append("rect").attr("x",x(i)-1.25).attr("width",2.8).attr("y",Math.min(yHist(v),yHist(0))).attr("height",Math.abs(yHist(v)-yHist(0))).attr("fill","#8b0000"));
seg(osc,zip(envUpperBars,envUpperValues),yOsc,"#0c6a0c",1,mono);
seg(osc,zip(envLowerBars,envLowerValues),yOsc,"#0c6a0c",1,mono);
seg(osc,zip(signalBlueBars,signalBlueValues),yOsc,"#22b4ee",1,mono);
seg(osc,zip(signalOrangeBars,signalOrangeValues),yOsc,"#ff8c20",1,mono);
seg(osc,zip(stochBars,stochValues),yOsc,"#ffff00",4.6,mono);
seg(osc,zip(trendBars,trendValues),yOsc,"#0f7a0f",2.8,mono);
floorValues.forEach((v,i)=>osc.append("line").attr("x1",x(floorStartBars[i])).attr("x2",x(floorEndBars[i])).attr("y1",yOsc(v)).attr("y2",yOsc(v)).attr("stroke","#12e6f0").attr("stroke-width",1.8));

// momentum panel
momentum.forEach((v,i)=>svg.append("rect").attr("x",x(i)-1.5).attr("width",3).attr("y",Math.min(yMom(v),yMom(0))).attr("height",Math.abs(yMom(v)-yMom(0))).attr("fill",v>=0?"#0fe60f":"#ff0000"));
// gray histogram
histogram.forEach((v,i)=>svg.append("rect").attr("x",x(i)-1.5).attr("width",3).attr("y",Math.min(yGray(v),yGray(0))).attr("height",Math.max(0.6,Math.abs(yGray(v)-yGray(0)))).attr("fill","#c0c0c0"));

// legends
[["2,3) -0.0461",551],["4ik -0.127",696],["2,3) -0.0461",816]].forEach(d=>narrow(svg.append("text").attr("x",0).attr("y",d[1]).attr("dominant-baseline","central").attr("font-size",11).attr("fill","#e6e6e6").text(d[0]),.82));

// panel separators
[539.5,541.5,684.5,686.5,804.5,806.5].forEach(v=>svg.append("line").attr("x1",0).attr("x2",W).attr("y1",v).attr("y2",v).attr("stroke","#fff").attr("stroke-width",1));

// taskbar preview
const tip=svg.append("g");
tip.append("rect").attr("x",254).attr("y",808).attr("width",218).attr("height",63).attr("fill","#2c2c2c");
tip.append("rect").attr("x",263).attr("y",819).attr("width",16).attr("height",13).attr("rx",3).attr("fill","#0b0b0b");
tip.append("text").attr("x",271).attr("y",826).attr("text-anchor","middle").attr("dominant-baseline","central").attr("font-family","Liberation Sans").attr("font-weight","bold").attr("font-style","italic").attr("font-size",8).attr("fill","#fff").text("XM");
tip.append("text").attr("x",287).attr("y",825).attr("dominant-baseline","central").attr("font-family","Noto Sans").attr("font-size",13).attr("fill","#e0e0e0").text("8626052: XM.COM-Demo 2 - D...");
tip.append("rect").attr("x",263).attr("y",841).attr("width",200).attr("height",30).attr("fill","#000");
tip.append("rect").attr("x",263).attr("y",841).attr("width",200).attr("height",3.5).attr("fill","#e4e4e4");
const mx=d3.scaleLinear().domain([0,322]).range([263,406]);
const my=d3.scaleLinear().domain([28.67,44.39]).range([896,845]);
const mini=tip.append("g");
mini.append("path").attr("d",d3.line().x(d=>mx(d[0])).y(d=>my(d[1]))(zip(cloudBars,cloudPrices))+"Z").attr("fill","#0000cd");
d3.range(candleHigh.length).forEach(i=>mini.append("line").attr("x1",mx(i)).attr("x2",mx(i)).attr("y1",my(candleHigh[i])).attr("y2",my(candleLow[i])).attr("stroke",candleDir[i]==="O"?"#d88a14":"#c01808").attr("stroke-width",.8));
[[orangeWaveABars,orangeWaveAPrices,"#c87020"],[orangeWaveBBars,orangeWaveBPrices,"#c87020"],[cyanWaveBars,cyanWavePrices,"#20a0a8"]].forEach(w=>mini.append("path").attr("d",d3.line().x(d=>mx(d[0])).y(d=>my(d[1]))(zip(w[0],w[1]))).attr("fill","none").attr("stroke",w[2]).attr("stroke-width",.6));
pivotColors.forEach((c,i)=>mini.append("rect").attr("x",448).attr("y",846+i*2.2).attr("width",11).attr("height",1.2).attr("fill",c));
svg.append("text").attr("x",1549).attr("y",884).attr("font-family","Open Sans").attr("font-size",24).attr("fill","#6a6a6a").text("Activate Windows");
</script>
</body></html>
